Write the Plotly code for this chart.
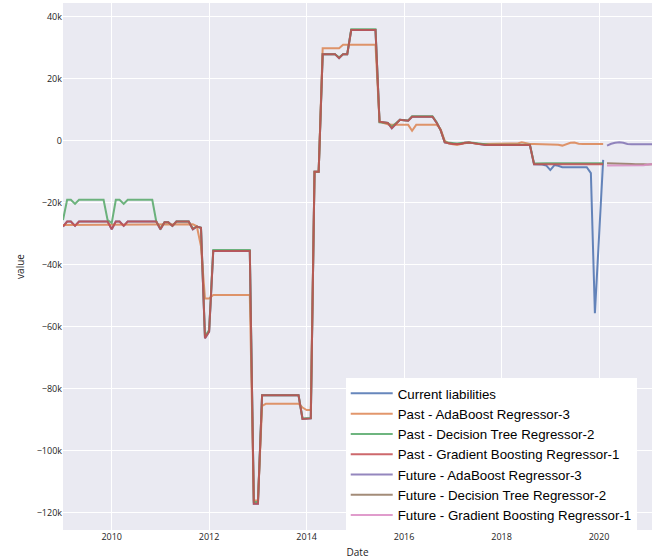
import numpy as np
import pandas as pd
import plotly.graph_objects as go

# Monthly dates
past_dates = pd.date_range("2009-01-01", "2020-02-01", freq="MS")
future_dates = pd.date_range("2020-03-01", "2021-02-01", freq="MS")

# Values in thousands
current_liabilities = (
    [-27.6, -26.0, -26.0, -27.4, -26.0, -26.0, -26.0, -26.0, -26.0, -26.0, -26.0, -26.0,
     -28.5, -26.0, -26.0, -27.4, -26.0, -26.0, -26.0, -26.0, -26.0, -26.0, -26.0, -26.0,
     -28.5, -26.2, -26.2, -27.4, -26.0, -26.0, -26.0, -26.0, -28.5, -27.6, -28.0, -63.6,
     -61.5, -35.5, -35.5, -35.5, -35.5, -35.5, -35.5, -35.5, -35.5, -35.5, -35.5, -117.0,
     -117.0, -82.0, -82.0, -82.0, -82.0, -82.0, -82.0, -82.0, -82.0, -82.0, -82.0, -89.7,
     -89.6, -89.5, -9.9, -9.9, 28.0, 28.0, 28.0, 28.0, 26.7, 28.0, 28.0, 35.8,
     35.8, 35.8, 35.8, 35.8, 35.8, 35.8, 6.2, 5.9, 5.8, 4.1, 5.6, 6.8,
     6.7, 6.5, 7.8, 7.8, 7.8, 7.8, 7.8, 7.8, 5.9, 3.5, -0.5, -0.8,
     -1.0, -1.0, -1.0, -0.6, -0.5, -0.7, -0.9, -1.2, -1.3, -1.3, -1.3, -1.3,
     -1.3, -1.3, -1.3, -1.3, -1.3, -1.3, -1.3, -1.3, -7.5, -7.5, -7.6, -7.9,
     -9.4, -7.8, -8.0, -8.5, -8.5, -8.5, -8.5, -8.5, -8.5, -8.5, -10.4, -55.6,
     -31.0, -6.1]
)

past_adaboost = (
    [-27.1, -27.1, -27.1, -27.1, -27.1, -27.1, -27.1, -27.1, -27.1, -27.1, -27.1, -27.1,
     -27.1, -27.1, -27.1, -27.1, -27.1, -27.1, -27.1, -27.1, -27.1, -27.1, -27.1, -27.1,
     -27.1, -26.9, -26.9, -26.9, -26.9, -26.9, -26.9, -26.9, -26.9, -27.5, -34.0, -50.8,
     -50.8, -49.7, -49.7, -49.7, -49.7, -49.7, -49.7, -49.7, -49.7, -49.7, -49.7, -116.0,
     -116.0, -85.5, -84.8, -84.8, -84.8, -84.8, -84.8, -84.8, -84.8, -84.8, -84.8, -86.0,
     -86.8, -86.8, -9.9, -9.9, 29.9, 29.9, 29.9, 29.9, 29.9, 31.0, 31.0, 31.0,
     31.0, 31.0, 31.0, 31.0, 31.0, 31.0, 6.2, 5.7, 5.4, 5.2, 5.2, 5.2,
     5.2, 5.2, 3.3, 5.2, 5.2, 5.2, 5.2, 5.2, 5.2, 3.8, 0.0, -0.8,
     -1.1, -1.3, -1.0, -0.8, -0.5, -0.7, -1.0, -1.0, -1.0, -1.0, -1.0, -1.0,
     -1.0, -1.0, -1.0, -1.0, -0.8, -0.4, -0.8, -1.0, -1.0, -1.0, -1.0, -1.0,
     -1.0, -1.0, -1.2, -1.5, -1.0, -0.6, -0.5, -0.9, -1.0, -1.0, -1.0, -1.0,
     -1.0, -1.0]
)

past_decision_tree = (
    [-25.5, -19.0, -19.0, -20.3, -19.0, -19.0, -19.0, -19.0, -19.0, -19.0, -19.0, -25.5,
     -26.5, -19.0, -19.0, -20.3, -19.0, -19.0, -19.0, -19.0, -19.0, -19.0, -19.0, -26.0,
     -28.3, -26.2, -26.2, -27.4, -26.0, -26.0, -26.0, -26.0, -28.3, -27.6, -28.0, -63.0,
     -61.0, -35.2, -35.2, -35.2, -35.2, -35.2, -35.2, -35.2, -35.2, -35.2, -35.2, -116.5,
     -116.5, -82.0, -82.0, -82.0, -82.0, -82.0, -82.0, -82.0, -82.0, -82.0, -82.0, -89.5,
     -89.5, -89.4, -9.9, -9.9, 28.0, 28.0, 28.0, 28.0, 27.0, 28.0, 28.0, 36.0,
     36.0, 36.0, 36.0, 36.0, 36.0, 36.0, 6.0, 5.8, 5.8, 4.6, 5.6, 6.8,
     6.7, 6.6, 8.0, 8.0, 8.0, 8.0, 8.0, 8.0, 6.0, 3.5, -0.4, -0.6,
     -0.8, -0.8, -0.7, -0.5, -0.5, -0.6, -0.8, -1.0, -1.2, -1.2, -1.2, -1.2,
     -1.2, -1.2, -1.2, -1.2, -1.2, -1.2, -1.2, -1.2, -7.3, -7.2, -7.2, -7.2,
     -7.2, -7.2, -7.2, -7.2, -7.2, -7.0, -7.0, -7.0, -7.0, -7.2, -7.2, -7.2,
     -7.2, -7.2]
)

past_gradient_boosting = (
    [-27.6, -26.0, -26.0, -27.4, -26.0, -26.0, -26.0, -26.0, -26.0, -26.0, -26.0, -26.0,
     -28.5, -26.0, -26.0, -27.4, -26.0, -26.0, -26.0, -26.0, -26.0, -26.0, -26.0, -26.0,
     -28.5, -26.2, -26.2, -27.4, -26.0, -26.0, -26.0, -26.0, -28.5, -27.6, -28.0, -63.6,
     -61.5, -35.5, -35.5, -35.5, -35.5, -35.5, -35.5, -35.5, -35.5, -35.5, -35.5, -117.0,
     -117.0, -82.0, -82.0, -82.0, -82.0, -82.0, -82.0, -82.0, -82.0, -82.0, -82.0, -89.7,
     -89.6, -89.5, -9.9, -9.9, 28.0, 28.0, 28.0, 28.0, 26.7, 28.0, 28.0, 35.8,
     35.8, 35.8, 35.8, 35.8, 35.8, 35.8, 6.2, 5.9, 5.8, 4.1, 5.6, 6.8,
     6.7, 6.5, 7.8, 7.8, 7.8, 7.8, 7.8, 7.8, 5.9, 3.5, -0.5, -0.8,
     -1.0, -1.0, -1.0, -0.6, -0.5, -0.7, -0.9, -1.2, -1.3, -1.3, -1.3, -1.3,
     -1.3, -1.3, -1.3, -1.3, -1.3, -1.3, -1.3, -1.3, -7.5, -7.5, -7.5, -7.5,
     -7.5, -7.5, -7.5, -7.5, -7.5, -7.5, -7.5, -7.5, -7.5, -7.5, -7.5, -7.5,
     -7.5, -7.5]
)

future_adaboost = [-1.5, -0.9, -0.6, -0.4, -0.6, -1.0, -1.1, -1.1, -1.1, -1.1, -1.1, -1.1]
future_decision_tree = [-7.2, -7.2, -7.3, -7.2, -7.3, -7.3, -7.4, -7.5, -7.4, -7.5, -7.6, -7.5]
future_gradient_boosting = [-7.9, -7.9, -7.9, -7.9, -7.9, -7.9, -7.9, -7.8, -7.8, -7.8, -7.6, -7.5]

series = [
    ("Current liabilities", past_dates, current_liabilities),
    ("Past - AdaBoost Regressor-3", past_dates, past_adaboost),
    ("Past - Decision Tree Regressor-2", past_dates, past_decision_tree),
    ("Past - Gradient Boosting Regressor-1", past_dates, past_gradient_boosting),
    ("Future - AdaBoost Regressor-3", future_dates, future_adaboost),
    ("Future - Decision Tree Regressor-2", future_dates, future_decision_tree),
    ("Future - Gradient Boosting Regressor-1", future_dates, future_gradient_boosting),
]

colors = ["rgb(76,114,176)", "rgb(221,132,82)", "rgb(85,168,104)", "rgb(196,78,82)",
          "rgb(129,114,179)", "rgb(147,120,96)", "rgb(218,139,195)"]

fig = go.Figure()
for (name, x, y), c in zip(series, colors):
    fig.add_trace(go.Scatter(x=x, y=np.array(y) * 1000, mode="lines", name=name,
                             line=dict(color=c, width=2), opacity=0.85))

fig.update_layout(
    template="seaborn",
    width=652, height=560,
    margin=dict(l=63, r=0, t=3, b=30, autoexpand=False),
    font=dict(family="Open Sans, sans-serif", size=9, color="rgb(36,36,36)"),
    showlegend=True,
    legend=dict(x=0.48, y=0.288, xanchor="left", yanchor="top",
                bgcolor="white", itemwidth=42,
                font=dict(family="Liberation Sans, Arial, sans-serif", size=13.3, color="black")),
)
fig.update_xaxes(title=dict(text="Date", font=dict(size=10), standoff=6),
                 range=[past_dates[0], future_dates[-1]], dtick="M24",
                 tickformat="%Y", showline=False, zeroline=False, automargin=False)
fig.update_yaxes(title=dict(text="value", font=dict(size=10), standoff=10),
                 range=[-125500, 44500], dtick=20000, zeroline=False, showline=False,
                 automargin=False)

fig.write_html("out.html", config={"displayModeBar": False},
               post_script="document.body.style.margin='0';")
